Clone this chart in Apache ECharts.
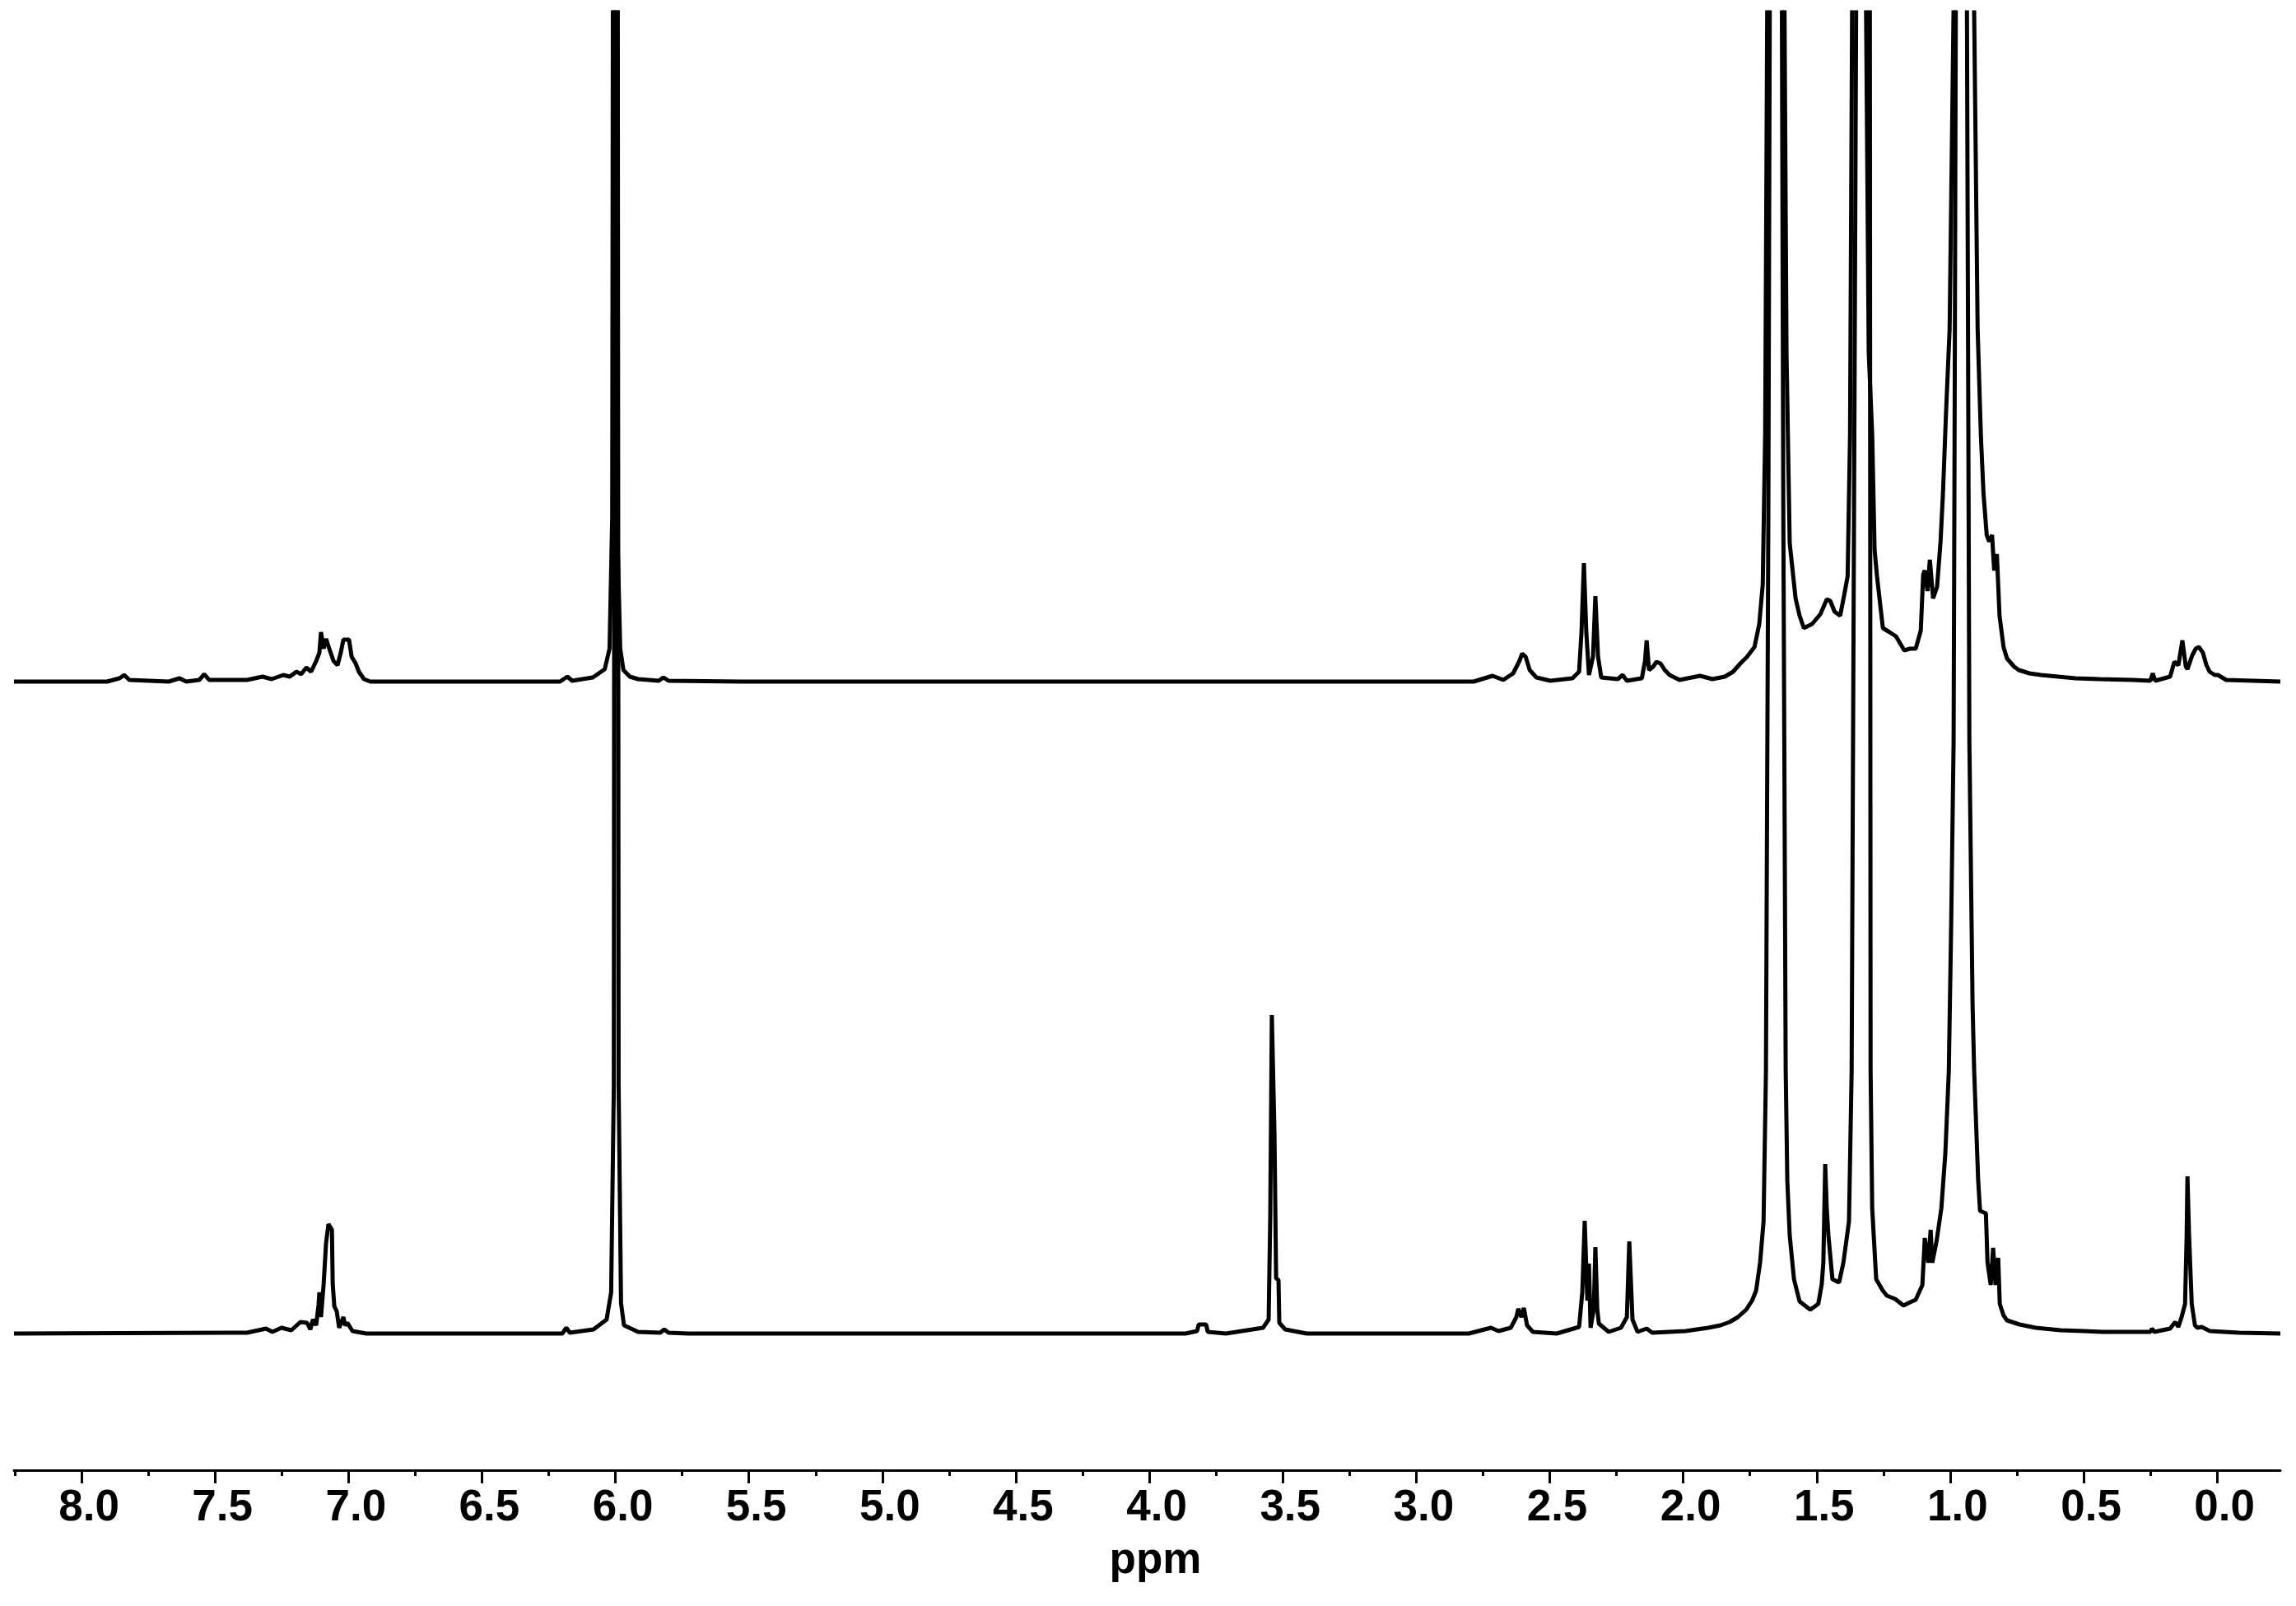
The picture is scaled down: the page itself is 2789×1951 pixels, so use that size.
<!DOCTYPE html>
<html>
<head>
<meta charset="utf-8">
<script src="https://cdn.jsdelivr.net/npm/echarts@6/dist/echarts.min.js"></script>
<style>
html,body{margin:0;padding:0;background:#fff;}
#chart{width:2789px;height:1951px;}
</style>
</head>
<body>
<div id="chart"></div>
<script>
// Chemical-shift ticks (ppm)
const majorTicks = [0.0,0.5,1.0,1.5,2.0,2.5,3.0,3.5,4.0,4.5,5.0,5.5,6.0,6.5,7.0,7.5,8.0];
const minorTicks = [0.25,0.75,1.25,1.75,2.25,2.75,3.25,3.75,4.25,4.75,5.25,5.75,6.25,6.75,7.25,7.75,8.25];
const axisMin = -0.237;
const axisMax = 8.253;

// Upper spectrum (relative intensity, arbitrary units)
const topShift = [8.253,7.904,7.858,7.840,7.821,7.673,7.633,7.608,7.559,7.540,7.522,7.380,7.322,7.288,7.244,7.220,7.195,7.177,7.158,7.140,7.121,7.109,7.103,7.093,7.084,7.072,7.056,7.041,7.029,7.019,6.998,6.988,6.973,6.961,6.942,6.918,
6.208,6.180,6.162,6.085,6.040,6.022,6.012,6.003,5.994,5.982,5.970,5.946,5.915,5.838,5.820,5.801,5.530,
2.785,2.714,2.674,2.637,2.615,2.603,2.590,2.575,2.550,2.498,2.415,2.390,2.381,2.372,2.363,2.353,2.338,2.329,2.319,2.307,2.245,2.227,2.211,2.155,2.143,2.137,2.128,2.113,2.100,2.085,2.069,2.051,2.014,1.937,1.891,1.844,1.813,1.786,1.761,1.733,1.715,1.702,1.693,
1.684,1.653,1.622,1.613,1.601,1.579,1.564,1.548,1.517,1.486,1.462,1.449,1.433,1.412,1.397,1.384,1.375,
1.366,1.338,1.317,1.305,1.292,1.283,1.274,1.252,1.227,1.203,1.172,1.150,1.129,1.110,1.101,1.095,1.085,1.076,1.064,1.049,1.036,1.027,1.015,1.002,
0.984,0.953,0.913,0.897,0.885,0.875,0.863,0.854,0.843,0.835,0.825,0.815,0.800,0.787,0.760,0.743,0.703,0.660,0.595,0.530,0.441,0.318,0.250,0.241,0.232,0.176,0.160,0.145,0.130,0.117,0.111,0.093,0.080,0.068,0.053,0.040,0.028,0.009,-0.003,-0.034,-0.237];
const topIntensity = [0,0,4,8,2,0,4,0,2,9,2,2,6,3,8,6,12,9,17,12,25,35,60,40,52,40,25,20,35,51,51,30,22,12,3,0,
0,6,1,5,15,40,200,2500,200,40,14,6,3,1,5,1,0,
0,7,2,10,24,34,30,14,5,1,4,12,60,144,60,8,30,104,30,5,3,8,1,4,25,50,14,18,24,22,14,8,2,7,3,6,12,22,30,42,70,118,300,
900,5000,900,400,168,101,80,65,70,82,100,98,85,80,105,128,300,
900,5000,900,400,300,160,128,65,60,55,38,40,40,62,130,135,110,148,101,115,170,228,330,428,
900,5000,900,428,300,228,178,170,178,135,155,80,42,28,18,14,10,8,6,4,3,2,1,10,1,6,24,20,50,18,15,32,40,42,35,20,12,8,8,2,0];

// Lower spectrum (relative intensity, arbitrary units)
const bottomShift = [8.253,7.442,7.380,7.309,7.285,7.251,7.214,7.180,7.155,7.143,7.133,7.121,7.112,7.109,7.103,7.093,7.084,7.075,7.062,7.059,7.053,7.044,7.035,7.025,7.019,7.013,7.004,6.985,6.933,
6.199,6.184,6.171,6.082,6.033,6.016,6.006,5.997,5.988,5.979,5.968,5.915,5.832,5.817,5.801,5.727,
3.864,3.821,3.815,3.787,3.781,3.713,3.574,3.553,3.547,3.541,3.531,3.525,3.516,3.513,3.491,3.411,
2.803,2.720,2.692,2.646,2.625,2.618,2.606,2.597,2.585,2.563,2.474,2.390,2.378,2.369,2.359,2.353,2.347,2.335,2.329,2.322,2.316,2.279,2.233,2.211,2.202,2.190,2.171,2.137,2.116,1.992,1.906,1.860,1.826,1.795,1.764,1.742,1.727,1.712,1.699,1.690,
1.681,1.675,1.653,1.631,1.625,1.616,1.610,1.601,1.585,1.564,1.524,1.494,1.481,1.475,1.468,1.462,1.456,1.441,1.416,1.400,1.379,1.369,
1.360,1.351,1.332,1.301,1.298,1.292,1.277,1.252,1.237,1.206,1.175,1.150,1.129,1.104,1.095,1.082,1.073,1.067,1.051,1.033,1.018,1.005,
0.996,0.987,0.984,0.978,0.956,0.938,0.931,0.928,0.916,0.910,0.895,0.888,0.866,0.860,0.848,0.839,0.830,0.820,0.814,0.800,0.787,0.740,0.680,0.586,0.500,0.429,0.250,0.244,0.235,0.176,0.157,0.145,0.133,0.120,0.114,0.111,0.105,0.095,0.083,0.074,0.058,0.027,-0.083,-0.237];
const bottomIntensity = [0,1,1,6,2,7,4,14,13,5,17,10,35,50,20,60,110,133,126,60,33,27,7,15,20,10,13,3,0,
0,7,1,5,17,50,300,4000,300,37,10,2,1,5,1,0,
0,3,11,11,2,0,7,17,140,387,240,67,65,13,5,0,
0,7,3,7,20,30,20,31,10,2,0,8,50,137,40,85,7,30,105,30,12,2,7,20,112,17,2,6,1,3,7,10,14,20,29,40,52,86,136,319,
1000,1700,6000,1700,1000,319,186,119,66,39,29,36,60,86,206,150,119,66,62,86,136,319,
1000,1700,6000,1700,319,152,66,52,46,42,34,38,41,59,116,86,126,86,112,152,219,319,
500,720,1020,1700,6000,1700,1020,720,400,319,186,149,146,86,59,104,59,92,36,22,16,11,7,4,3,2,2,6,2,6,14,8,20,36,120,191,120,36,10,7,8,3,1,0];

function pairs(xs, ys){ return xs.map((x,i)=>[x, ys[i]]); }

const chart = echarts.init(document.getElementById('chart'), null, {renderer:'canvas'});
const gridRect = {left:17, right:19, top:15, bottom:165};
const font = 'Liberation Sans, Arial, sans-serif';

chart.setOption({
  animation:false,
  backgroundColor:'#ffffff',
  grid:[Object.assign({}, gridRect), Object.assign({}, gridRect)],
  xAxis:[
    {
      type:'value', gridIndex:0, min:axisMin, max:axisMax, inverse:true, position:'bottom',
      axisLine:{show:true, onZero:false, lineStyle:{color:'#000', width:3}},
      axisTick:{show:true, inside:false, length:16, lineStyle:{color:'#000', width:3}, customValues:majorTicks},
      axisLabel:{show:true, margin:20, color:'#000', fontFamily:font, fontWeight:'bold', fontSize:53,
        padding:[0,0,0,18], customValues:majorTicks, formatter:(v)=>Number(v).toFixed(1)},
      splitLine:{show:false},
      name:'ppm', nameLocation:'middle', nameGap:84,
      nameTextStyle:{color:'#000', fontFamily:font, fontWeight:'bold', fontSize:53, padding:[0,0,0,20]}
    },
    {
      type:'value', gridIndex:1, min:axisMin, max:axisMax, inverse:true, position:'bottom',
      axisLine:{show:false, onZero:false},
      axisTick:{show:true, inside:false, length:7, lineStyle:{color:'#000', width:3}, customValues:minorTicks},
      axisLabel:{show:false},
      splitLine:{show:false}
    }
  ],
  yAxis:[
    {type:'value', gridIndex:0, min:-166, max:1605, show:false, splitLine:{show:false}},
    {type:'value', gridIndex:1, min:-958, max:813, show:false, splitLine:{show:false}}
  ],
  series:[
    {
      name:'lower', type:'line', xAxisIndex:0, yAxisIndex:0, data:pairs(bottomShift, bottomIntensity),
      showSymbol:false, symbol:'none', clip:true, lineStyle:{color:'#000', width:5}
    },
    {
      name:'upper', type:'line', xAxisIndex:1, yAxisIndex:1, data:pairs(topShift, topIntensity),
      showSymbol:false, symbol:'none', clip:true, lineStyle:{color:'#000', width:5}
    }
  ]
});
</script>
</body>
</html>
